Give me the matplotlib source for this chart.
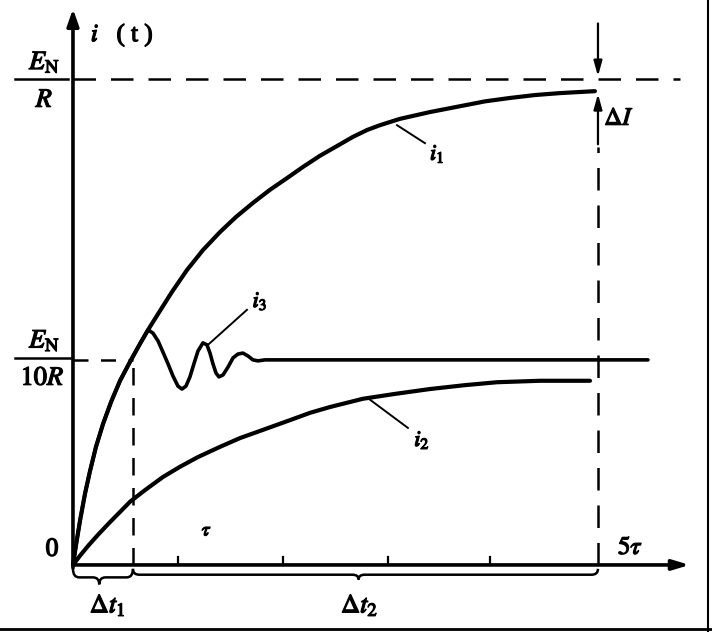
import matplotlib
matplotlib.use("Agg")
from matplotlib import pyplot as plt
from matplotlib.path import Path
from matplotlib.patches import PathPatch
import matplotlib.patheffects as pe

plt.rcParams['mathtext.fontset'] = 'stix'
plt.rcParams['font.family'] = ['Liberation Serif', 'DejaVu Serif']

# time in units of tau, current in units of E_N/R
t_i1 = [0, 0.029, 0.067, 0.114, 0.162, 0.219, 0.286, 0.362, 0.448, 0.543, 0.638,
        0.733, 0.829, 0.943, 1.086, 1.238, 1.4, 1.552, 1.714, 1.876, 2.038, 2.190,
        2.352, 2.514, 2.667, 2.8, 2.924, 3.114, 3.4, 3.686, 3.924, 4.162, 4.4,
        4.638, 4.971]
i1 = [0, 0.041, 0.091, 0.146, 0.193, 0.243, 0.290, 0.335, 0.379, 0.418, 0.455,
      0.490, 0.523, 0.562, 0.607, 0.648, 0.685, 0.716, 0.745, 0.772, 0.796, 0.819,
      0.842, 0.862, 0.881, 0.895, 0.905, 0.918, 0.932, 0.944, 0.954, 0.961, 0.967,
      0.971, 0.975]

t_i2 = [0, 0.067, 0.143, 0.238, 0.352, 0.448, 0.543, 0.686, 0.857, 1.019, 1.190,
        1.4, 1.590, 1.810, 2.067, 2.257, 2.448, 2.762, 3.067, 3.4, 3.733, 4.038,
        4.448, 4.924]
i2 = [0, 0.019, 0.039, 0.062, 0.088, 0.109, 0.130, 0.154, 0.181, 0.202, 0.222,
      0.243, 0.261, 0.278, 0.298, 0.313, 0.325, 0.342, 0.352, 0.362, 0.370, 0.376,
      0.379, 0.379]

# i3 runs on i1 up to its first peak, then rings about E_N/10R
t_i3 = [0, 0.029, 0.067, 0.114, 0.162, 0.219, 0.286, 0.362, 0.448, 0.543, 0.638,
        0.714, 0.762, 0.810, 0.857, 0.905, 0.952, 1.0, 1.038, 1.076, 1.114, 1.152,
        1.190, 1.238, 1.276, 1.305, 1.333, 1.362, 1.390, 1.429, 1.476, 1.524,
        1.571, 1.619, 1.667, 1.714, 1.762, 1.829, 5.476]
i3 = [0, 0.041, 0.091, 0.146, 0.193, 0.243, 0.290, 0.335, 0.379, 0.418, 0.455,
      0.484, 0.477, 0.461, 0.438, 0.414, 0.389, 0.368, 0.362, 0.368, 0.387, 0.414,
      0.440, 0.457, 0.453, 0.436, 0.414, 0.395, 0.387, 0.391, 0.407, 0.426,
      0.434, 0.436, 0.430, 0.422, 0.420, 0.422, 0.422]

level_full = 1.0      # E_N / R
level_tenth = 0.422   # E_N / 10R as drawn
dt1_end = 0.571
t_end = 5.0
tau_ticks = [1, 2, 3, 3.97]

fig = plt.figure(figsize=(7.12, 6.32), dpi=100)
ax = fig.add_axes([0, 0, 1, 1])
ax.set_xlim(-0.695, 6.086)
ax.set_ylim(-0.138, 1.1626)
ax.axis('off')

k = 'black'
bold = [pe.withStroke(linewidth=0.9, foreground=k)]

# axes with arrows
ax.annotate('', xy=(0, 1.15), xytext=(0, -0.012),
            arrowprops=dict(arrowstyle='-|>,head_length=1.0,head_width=0.35', color=k, lw=2.6))
ax.annotate('', xy=(5.9, 0), xytext=(-0.01, 0),
            arrowprops=dict(arrowstyle='-|>,head_length=1.0,head_width=0.3', color=k, lw=2.6))
for tt in tau_ticks:
    ax.plot([tt, tt], [0, 0.016], color=k, lw=1.6)

# dashed guide lines
ax.plot([0, 5.78], [level_full, level_full], color=k, lw=1.8, dashes=(9, 6))
ax.plot([0, dt1_end], [level_tenth, level_tenth], color=k, lw=1.8, dashes=(6, 5))
ax.plot([dt1_end, dt1_end], [0, level_tenth], color=k, lw=1.8, dashes=(7, 5))
ax.plot([t_end, t_end], [0, 0.86], color=k, lw=1.8, dashes=(9, 6))

# Delta I arrows
ax.annotate('', xy=(t_end, level_full), xytext=(t_end, 1.12),
            arrowprops=dict(arrowstyle='-|>,head_length=0.9,head_width=0.25', color=k, lw=1.6))
ax.annotate('', xy=(t_end, 0.975), xytext=(t_end, 0.86),
            arrowprops=dict(arrowstyle='-|>,head_length=0.9,head_width=0.25', color=k, lw=1.6))

# curves
ax.plot(t_i1, i1, color=k, lw=3.0, solid_capstyle='round', solid_joinstyle='round')
ax.plot(t_i2, i2, color=k, lw=3.0, solid_capstyle='round', solid_joinstyle='round')
ax.plot(t_i3, i3, color=k, lw=2.6, solid_capstyle='round', solid_joinstyle='round')


def brace(x0, x1, xm, ytop, ytip):
    ymid = ytop - (ytop - ytip) * 0.55
    h = 0.06
    verts = [(x0, ytop), (x0, ymid), (x0 + h, ymid),
             (xm - h, ymid), (xm, ymid), (xm, ytip),
             (xm, ymid), (xm + h, ymid),
             (x1 - h, ymid), (x1, ymid), (x1, ytop)]
    codes = [Path.MOVETO, Path.CURVE3, Path.CURVE3,
             Path.LINETO, Path.CURVE3, Path.CURVE3,
             Path.CURVE3, Path.CURVE3,
             Path.LINETO, Path.CURVE3, Path.CURVE3]
    ax.add_patch(PathPatch(Path(verts, codes), fill=False, lw=1.8, color=k))


brace(0, dt1_end, 0.25, -0.008, -0.04)
brace(dt1_end, t_end, 2.72, -0.008, -0.03)

# leaders for curve labels
ax.plot([3.086, 3.352], [0.905, 0.868], color=k, lw=1.4)
ax.plot([1.286, 1.657], [0.453, 0.525], color=k, lw=1.4)
ax.plot([2.829, 3.19], [0.340, 0.282], color=k, lw=1.4)

fs = 19
texts = [
    ax.text(3.4, 0.846, r'$i_1$', fontsize=16, ha='left', va='center'),
    ax.text(1.71, 0.543, r'$i_3$', fontsize=16, ha='left', va='center'),
    ax.text(3.25, 0.257, r'$i_2$', fontsize=16, ha='left', va='center'),
    ax.text(0.17, 1.09, r'$i$   ( t )', fontsize=18, ha='left', va='center'),
    ax.text(-0.27, 1.035, r'$E_{\mathrm{N}}$', fontsize=fs, ha='center', va='center'),
    ax.text(-0.27, 0.955, r'$R$', fontsize=fs, ha='center', va='center'),
    ax.text(-0.27, 0.462, r'$E_{\mathrm{N}}$', fontsize=fs, ha='center', va='center'),
    ax.text(-0.29, 0.383, r'$10R$', fontsize=fs, ha='center', va='center'),
    ax.text(-0.2, 0.031, '0', fontsize=fs, ha='center', va='center'),
    ax.text(1.276, 0.07, r'$\tau$', fontsize=14, ha='center', va='center'),
    ax.text(5.31, 0.035, r'$5\tau$', fontsize=18, ha='center', va='center'),
    ax.text(0.33, -0.083, r'$\Delta t_1$', fontsize=fs, ha='center', va='center'),
    ax.text(2.73, -0.083, r'$\Delta t_2$', fontsize=fs, ha='center', va='center'),
    ax.text(5.06, 0.918, r'$\Delta I$', fontsize=18, ha='left', va='center'),
]
for t in texts:
    t.set_path_effects(bold)

# fraction bars
ax.plot([-0.552, -0.048], [level_full, level_full], color=k, lw=1.8)
ax.plot([-0.552, -0.03], [0.426, 0.426], color=k, lw=1.8)

# scan border at bottom and right
ax.plot([0, 1], [0.004, 0.004], transform=ax.transAxes, color=k, lw=2)
ax.plot([0.994, 0.994], [0, 1], transform=ax.transAxes, color=k, lw=1.5)

fig.savefig('out.png', dpi=100)
